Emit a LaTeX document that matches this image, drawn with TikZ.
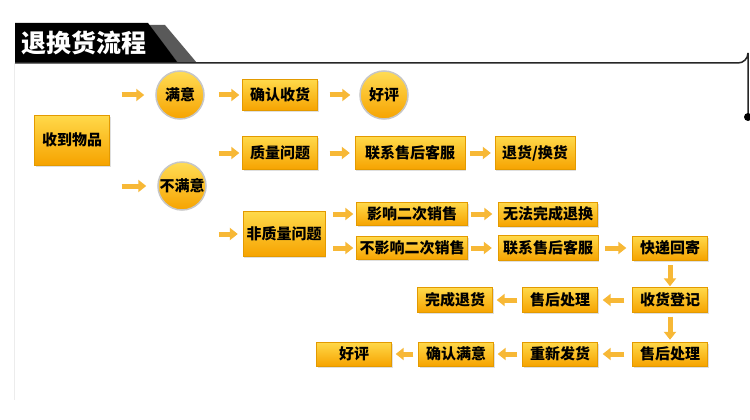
\documentclass[tikz,border=0pt]{standalone}
\usepackage{fontspec}
\newfontfamily\cjk{Noto Sans CJK SC}
\usetikzlibrary{arrows.meta,shadows}
\definecolor{boxtop}{HTML}{FFD94A}
\definecolor{boxbot}{HTML}{F6A300}
\definecolor{boxline}{HTML}{E39A00}
\definecolor{balltop}{HTML}{FFDC55}
\definecolor{arrcol}{HTML}{F7B836}
\begin{document}
\begin{tikzpicture}[x=1pt, y=-1pt,
    every node/.style={align=center, font=\cjk\bfseries\fontsize{15}{17}\selectfont},
    box/.style={rectangle, draw=boxline, top color=boxtop, bottom color=boxbot,
        minimum width=75pt, minimum height=25pt, inner sep=1pt,
        drop shadow={shadow xshift=1pt, shadow yshift=-1.5pt, opacity=0.25}},
    ball/.style={circle, draw=gray!45, line width=1.5pt, top color=balltop, bottom color=boxbot,
        minimum size=48pt, inner sep=0pt},
    arr/.style={-{Triangle[length=8pt,width=12pt]}, line width=5pt, draw=arrcol,
        shorten <=5pt, shorten >=4pt}]
    \useasboundingbox[fill=white] (0,0) rectangle (750,420);

    \draw[gray!15, line width=1pt] (14,63) -- (14,400);
    \fill[black!65] (148,25) -- (165,25) -- (197,63) -- (178,63) -- cycle;
    \fill[black] (15,23) -- (148,23) -- (178,63) -- (15,63) -- cycle;
    \node[font=\cjk\bfseries\fontsize{25}{28}\selectfont, text=white] (title) at (84,43) {退换货流程};
    \draw[black!85, line width=1.5pt] (15,63) -- (738,63) arc[start angle=90, end angle=0, radius=10] -- (748,117);
    \fill[black] (748,117) circle[radius=4];

    \node[box, minimum height=50pt] (shwp) at (72,140) {收到物品};
    \node[ball] (my) at (180,95) {满意};
    \node[ball] (bmy) at (182,186) {不满意};
    \node[box, minimum height=31pt] (qrsh) at (280,95) {确认收货};
    \node[ball] (hp1) at (384,95) {好评};

    \node[box, minimum height=33pt] (zlwt) at (280,153) {质量问题};
    \node[box, minimum width=110pt, minimum height=33pt] (lxkf1) at (410,153) {联系售后客服};
    \node[box, minimum width=80pt, minimum height=33pt] (thhh) at (535,153) {退货/换货};

    \node[box, minimum width=82pt, minimum height=45pt] (fzl) at (284,234) {非质量问题};
    \node[box, minimum width=111pt, minimum height=23pt] (yx) at (412,214) {影响二次销售};
    \node[box, minimum width=111pt, minimum height=23pt] (byx) at (412,248) {不影响二次销售};
    \node[box, minimum width=99pt, minimum height=24pt] (wf) at (548,214) {无法完成退换};
    \node[box, minimum width=100pt] (lxkf2) at (548,248) {联系售后客服};
    \node[box, minimum height=24pt] (kdhj) at (670,248) {快递回寄};

    \node[box] (shdj) at (670,300) {收货登记};
    \node[box] (shcl1) at (560,300) {售后处理};
    \node[box] (wcth) at (455,300) {完成退货};

    \node[box, minimum height=24pt] (shcl2) at (670,354) {售后处理};
    \node[box, minimum height=24pt] (cxfh) at (560,354) {重新发货};
    \node[box, minimum height=24pt] (qrmy) at (456,354) {确认满意};
    \node[box, minimum height=24pt] (hp2) at (354,354) {好评};

    \draw[arr, shorten <=12pt, shorten >=11pt] (shwp.east |- my) -- (my);
    \draw[arr, shorten <=12pt, shorten >=11pt] (shwp.east |- bmy) -- (bmy);
    \draw[arr, shorten <=14pt, shorten >=3pt] (my) -- (qrsh);
    \draw[arr, shorten <=12pt, shorten >=9pt] (qrsh) -- (hp1);
    \draw[arr, shorten <=12pt, shorten >=3pt] (bmy.east |- zlwt) -- (zlwt);
    \draw[arr, shorten <=12pt, shorten >=5pt] (bmy.east |- fzl) -- (fzl);
    \draw[arr, shorten <=12pt, shorten >=5pt] (zlwt) -- (lxkf1);
    \draw[arr] (lxkf1) -- (thhh);
    \draw[arr, shorten <=8pt, shorten >=3pt] (fzl.east |- yx) -- (yx);
    \draw[arr, shorten <=8pt, shorten >=3pt] (fzl.east |- byx) -- (byx);
    \draw[arr, shorten <=3pt, shorten >=6pt] (yx) -- (wf);
    \draw[arr, shorten <=3pt, shorten >=6pt] (byx) -- (lxkf2);
    \draw[arr, shorten <=7pt, shorten >=6pt] (lxkf2) -- (kdhj);
    \draw[arr, shorten <=5pt, shorten >=1pt] (kdhj) -- (shdj);
    \draw[arr, shorten <=8pt, shorten >=5pt] (shdj) -- (shcl1);
    \draw[arr] (shcl1) -- (wcth);
    \draw[arr, shorten <=4pt, shorten >=2pt] (shdj) -- (shcl2);
    \draw[arr, shorten <=8pt, shorten >=5pt] (shcl2) -- (cxfh);
    \draw[arr] (cxfh) -- (qrmy);
    \draw[arr] (qrmy) -- (hp2);
\end{tikzpicture}
\end{document}
